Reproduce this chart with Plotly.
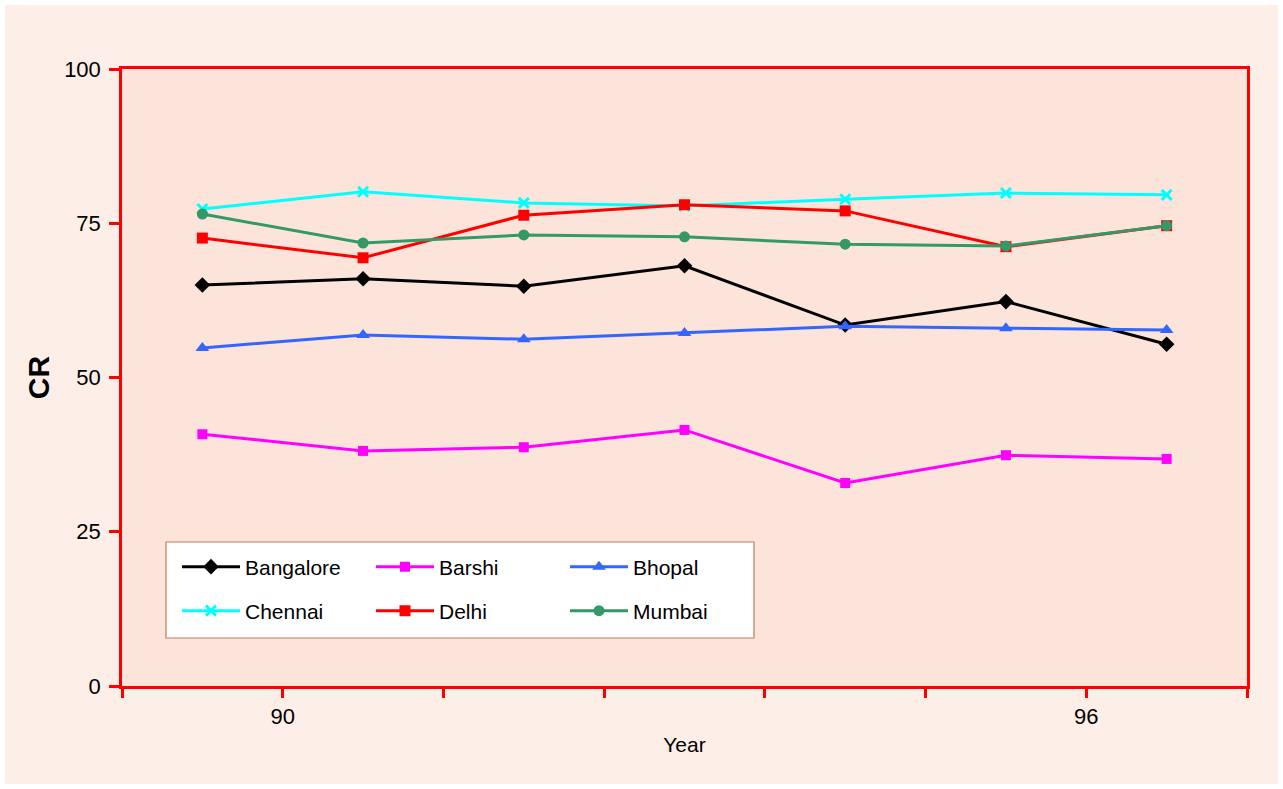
import plotly.graph_objects as go

years = [89.4, 90.6, 91.8, 93.0, 94.2, 95.4, 96.6]
bangalore = [65.0, 66.0, 64.8, 68.1, 58.5, 62.3, 55.4]
barshi = [40.8, 38.1, 38.7, 41.5, 32.9, 37.4, 36.8]
bhopal = [54.8, 56.9, 56.2, 57.2, 58.3, 58.0, 57.7]
chennai = [77.3, 80.1, 78.3, 77.8, 78.9, 79.9, 79.6]
delhi = [72.6, 69.4, 76.3, 78.0, 77.0, 71.2, 74.6]
mumbai = [76.5, 71.8, 73.1, 72.8, 71.6, 71.3, 74.6]

x_tickvals = [88.8, 90.0, 91.2, 92.4, 93.6, 94.8, 96.0, 97.2]
x_ticktext = ["", "90", "", "", "", "", "96", ""]
y_tickvals = [0, 25, 50, 75, 100]

series = [
    ("Bangalore", bangalore, "#000000", "diamond", 12, "legend"),
    ("Barshi", barshi, "#ff00ff", "square", 10, "legend"),
    ("Bhopal", bhopal, "#3366ff", "triangle-up", 12, "legend"),
    ("Chennai", chennai, "#00ffff", "x-thin", 10, "legend2"),
    ("Delhi", delhi, "#ff0000", "square", 11, "legend2"),
    ("Mumbai", mumbai, "#339966", "circle", 11, "legend2"),
]

FONT = "Liberation Sans, Arial, Helvetica, sans-serif"

fig = go.Figure()
for name, vals, color, sym, size, leg in series:
    marker = dict(symbol=sym, size=size, color=color)
    if sym == "x-thin":
        marker["line"] = dict(color=color, width=3)
    fig.add_trace(go.Scatter(
        x=years, y=vals, name=name, mode="lines+markers",
        line=dict(color=color, width=3), marker=marker, legend=leg,
    ))

W, H = 1283, 789
L, R, T, B = 122, 36, 69, 103
pw, ph = W - L - R, H - T - B


def px(xp):
    return (xp - L) / pw


def py(yp):
    return (H - B - yp) / ph


shapes = [
    dict(type="rect", xref="paper", yref="paper", layer="below",
         x0=px(5), x1=px(1278), y0=py(784), y1=py(5),
         fillcolor="#fdefe8", line=dict(width=0)),
    dict(type="rect", xref="paper", yref="paper", layer="below",
         x0=0, x1=1, y0=0, y1=1, fillcolor="#fde4da", line=dict(width=0)),
    dict(type="rect", xref="paper", yref="paper", layer="below",
         x0=px(166), x1=px(754), y0=py(638), y1=py(542),
         fillcolor="#ffffff", line=dict(color="#c47a5a", width=1.2)),
]

legend_common = dict(
    orientation="h", xanchor="left", yanchor="middle",
    bgcolor="rgba(0,0,0,0)", borderwidth=0,
    font=dict(family=FONT, size=21, color="#000000"),
    entrywidth=121, entrywidthmode="pixels", itemwidth=58,
)

fig.update_layout(
    width=W, height=H,
    margin=dict(l=L, r=R, t=T, b=B),
    paper_bgcolor="#ffffff",
    plot_bgcolor="#fde4da",
    font=dict(family=FONT, size=21, color="#000000"),
    shapes=shapes,
    legend=dict(x=px(177), y=py(567), **legend_common),
    legend2=dict(x=px(177), y=py(611), **legend_common),
    xaxis=dict(
        range=[88.8, 97.2], tickvals=x_tickvals, ticktext=x_ticktext,
        ticks="outside", ticklen=9, tickwidth=2.5, tickcolor="#ff0000",
        showline=True, linecolor="#ff0000", linewidth=2.5, mirror=True,
        showgrid=False, zeroline=False,
        tickfont=dict(family=FONT, size=22),
        title=dict(text="Year", font=dict(family=FONT, size=21), standoff=10),
    ),
    yaxis=dict(
        range=[0, 100], tickvals=y_tickvals,
        ticks="outside", ticklen=10, tickwidth=2.5, tickcolor="#ff0000",
        showline=True, linecolor="#ff0000", linewidth=2.5, mirror=True,
        showgrid=False, zeroline=False, ticklabelstandoff=4,
        tickfont=dict(family=FONT, size=22),
        title=dict(text="<b>CR</b>", font=dict(family=FONT, size=30), standoff=6),
    ),
)

fig.write_html("out.html", config={"displayModeBar": False},
               post_script="document.body.style.margin='0';")
